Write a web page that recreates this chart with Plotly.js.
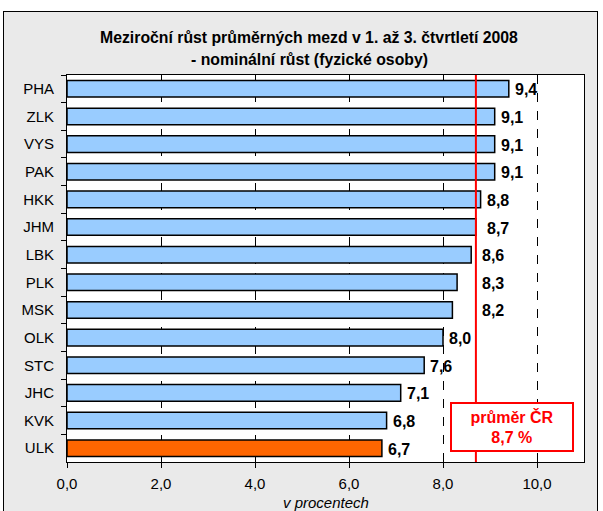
<!DOCTYPE html>
<html>
<head>
<meta charset="utf-8">
<script src="https://cdn.plot.ly/plotly-3.0.1.min.js"></script>
<style>
html,body{margin:0;padding:0;background:#fff;}
#wrap{position:relative;width:603px;height:511px;overflow:hidden;}
#frame{position:absolute;left:3px;top:11px;width:595px;height:520px;background:#eaeaea;border:1px solid #000;box-sizing:border-box;}
#chart{position:absolute;left:0;top:0;width:603px;height:511px;}
</style>
</head>
<body>
<div id="wrap"><div id="frame"></div><div id="chart"></div></div>
<script>
// Data (top to bottom as in the reference)
const regions = ["PHA","ZLK","VYS","PAK","HKK","JHM","LBK","PLK","MSK","OLK","STC","JHC","KVK","ULK"];
const growth  = [9.4, 9.1, 9.1, 9.1, 8.8, 8.7, 8.6, 8.3, 8.2, 8.0, 7.6, 7.1, 6.8, 6.7];
const highlight = "ULK";
const averageCR = 8.7;
const titleLines = ["Meziroční růst průměrných mezd v 1. až 3. čtvrtletí 2008", "- nominální růst (fyzické osoby)"];
const xTitle = "v procentech";
const avgLabel = "průměr ČR<br>8,7 %";

const FONT = "Liberation Sans, Arial, sans-serif";
const fmt = v => v.toFixed(1).replace('.', ',');
const colors = regions.map(r => r === highlight ? "#ff6600" : "#99ccff");

const trace = {
  type: "bar",
  orientation: "h",
  y: regions,
  x: growth,
  marker: {color: colors, line: {color: "#000", width: 1.5}},
  hoverinfo: "skip",
  width: 0.6
};

// value labels (moved right of the average line where they would collide)
const pxPerUnit = 47;
const labelAnn = regions.map((r, i) => {
  const v = growth[i];
  let shift = 4;
  if (v < averageCR + 0.05 && v > averageCR - 0.65) {
    const need = (averageCR - v) * pxPerUnit + 4;
    shift = Math.max(shift, need);
    if (Math.abs(v - averageCR) < 0.01) shift = 9;
  }
  return {
    x: v, y: r, xref: "x", yref: "y", text: fmt(v), showarrow: false,
    xanchor: "left", yanchor: "middle", xshift: shift, yshift: -1,
    font: {family: FONT, size: 16, color: "#000", weight: "bold"}
  };
});

const annotations = labelAnn.concat([
  {xref: "paper", yref: "paper", x: 0.469, y: (462 - 37.5) / 387, yanchor: "middle",
   text: "<b>" + titleLines[0] + "</b>", showarrow: false,
   font: {family: FONT, size: 15.8, color: "#000"}},
  {xref: "paper", yref: "paper", x: 0.469, y: (462 - 59.5) / 387, yanchor: "middle",
   text: "<b>" + titleLines[1] + "</b>", showarrow: false,
   font: {family: FONT, size: 15.8, color: "#000"}},
  {xref: "paper", yref: "paper", x: 0.5, y: (462 - 503) / 387, yanchor: "middle",
   text: "<i>" + xTitle + "</i>", showarrow: false,
   font: {family: FONT, size: 15, color: "#000"}},
  {xref: "paper", yref: "paper", x: (512 - 67) / 517, y: (462 - 427.3) / 387, xanchor: "center", yanchor: "middle",
   text: "<b>" + avgLabel + "</b>", showarrow: false,
   bgcolor: "#fff", bordercolor: "#ff0000", borderwidth: 2, borderpad: 0, width: 120, height: 46,
   align: "center", valign: "middle",
   font: {family: FONT, size: 16, color: "#ff0000"}}
]);

const layout = {
  width: 603, height: 511,
  margin: {l: 67, r: 19, t: 75, b: 49},
  paper_bgcolor: "rgba(0,0,0,0)",
  plot_bgcolor: "#fff",
  showlegend: false,
  separators: ", ",
  bargap: 0.4,
  xaxis: {
    range: [0, 11], dtick: 2, tick0: 0, tickformat: ".1f",
    showgrid: true, gridcolor: "#000", griddash: "dash", gridwidth: 1,
    zeroline: false, showline: true, linecolor: "#000", linewidth: 1, mirror: true,
    ticks: "outside", ticklen: 5, tickcolor: "#000",
    ticklabelstandoff: 3,
    tickfont: {family: FONT, size: 15, color: "#000"}
  },
  yaxis: {
    type: "category", autorange: "reversed",
    showgrid: false, zeroline: false, showline: true, linecolor: "#000", linewidth: 1, mirror: true,
    ticks: "outside", ticklen: 5, tickcolor: "#000", tickson: "boundaries",
    ticklabelstandoff: 9,
    tickfont: {family: FONT, size: 15, color: "#000"}
  },
  shapes: [
    {type: "line", xref: "x", yref: "paper", x0: averageCR, x1: averageCR, y0: 0, y1: 1,
     line: {color: "#ff0000", width: 2}, layer: "above"}
  ],
  annotations: annotations
};

Plotly.newPlot("chart", [trace], layout, {staticPlot: true, displayModeBar: false});
</script>
</body>
</html>
